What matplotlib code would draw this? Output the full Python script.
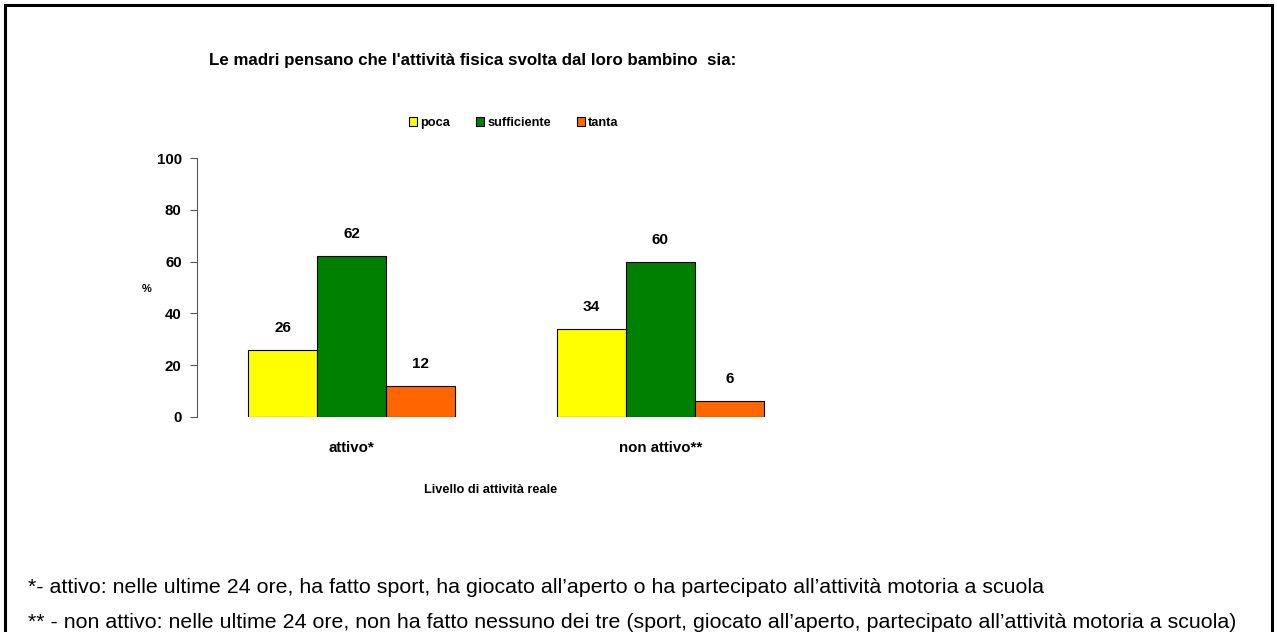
import matplotlib
matplotlib.use("Agg")
import matplotlib.pyplot as plt
from matplotlib.patches import Rectangle
import numpy as np

categories = ["attivo*", "non attivo**"]
series_names = ["poca", "sufficiente", "tanta"]
poca = [26, 34]
sufficiente = [62, 60]
tanta = [12, 6]
series_values = [poca, sufficiente, tanta]
series_colors = ["#FFFF00", "#008000", "#FF6600"]

title = "Le madri pensano che l'attività fisica svolta dal loro bambino  sia:"
xlabel = "Livello di attività reale"
ylabel = "%"
footnotes = [
    "*- attivo: nelle ultime 24 ore, ha fatto sport, ha giocato all\u2019aperto o ha partecipato all\u2019attività motoria a scuola",
    "** - non attivo: nelle ultime 24 ore, non ha fatto nessuno dei tre (sport, giocato all\u2019aperto, partecipato all\u2019attività motoria a scuola)",
]

narrow = ["Liberation Sans Narrow", "Liberation Sans", "DejaVu Sans"]
regular = ["Liberation Sans", "DejaVu Sans"]

W, H = 1277, 632
fig = plt.figure(figsize=(W / 100, H / 100), dpi=100)
renderer = fig.canvas.get_renderer()


def fit_size(text, size, target_px, **kw):
    """Font size that makes `text` about target_px wide."""
    t = fig.text(0, 0, text, fontsize=size, **kw)
    w = t.get_window_extent(renderer).width
    t.remove()
    return size * target_px / w


bold = dict(family=narrow, fontweight="bold")
tick_size = fit_size("100", 11, 25, **bold)
cat_size = fit_size("attivo*", 11, 46, **bold)
label_size = fit_size("62", 11, 17, **bold)
title_size = fit_size(title, 12, 525, **bold)
xlabel_size = fit_size(xlabel, 9, 134, **bold)
legend_size = fit_size("sufficiente", 9, 64, **bold)
foot_size = fit_size(footnotes[0], 11, 1010, family=regular)

ax = fig.add_axes([197 / W, 1 - 417 / H, 618 / W, 259 / H])

x = np.arange(len(categories))
width = 0.2233
offsets = [-width, 0, width]

for vals, name, color, off in zip(series_values, series_names, series_colors, offsets):
    bars = ax.bar(x + off, vals, width, color=color, edgecolor="black",
                  linewidth=0.8, label=name)
    for bar, val in zip(bars, vals):
        ax.annotate(f"{val}", (bar.get_x() + bar.get_width() / 2, bar.get_height()),
                    xytext=(0, 22), textcoords="offset pixels", ha="center",
                    va="center", fontsize=label_size, **bold)

ax.set_xlim(-0.5, 1.5)
ax.set_ylim(0, 100)
ax.set_yticks(range(0, 101, 20))
ax.set_yticklabels([str(v) for v in range(0, 101, 20)], fontsize=tick_size, **bold)
ax.tick_params(axis="y", direction="out", length=5, width=0.8, pad=6, color="#555555")
ax.set_xticks(x)
ax.set_xticklabels(categories, fontsize=cat_size, **bold)
ax.tick_params(axis="x", length=0, pad=17)
for s in ["top", "right", "bottom"]:
    ax.spines[s].set_visible(False)
ax.spines["left"].set_color("#555555")
ax.spines["left"].set_linewidth(0.8)

fig.text(147 / W, 1 - 289 / H, ylabel, fontsize=8, ha="center", va="center", **bold)
fig.text(491 / W, 1 - 490 / H, xlabel, fontsize=xlabel_size, ha="center",
         va="center", **bold)
fig.text(473 / W, 1 - 61 / H, title, fontsize=title_size, ha="center",
         va="center", **bold)

em_px = legend_size * 100 / 72
fig.legend(loc="center", bbox_to_anchor=(514 / W, 1 - 123 / H), ncol=3,
           frameon=False, handlelength=8 / em_px, handleheight=8 / em_px,
           handletextpad=3 / em_px, columnspacing=26 / em_px,
           prop={"family": narrow, "weight": "bold", "size": legend_size})

fig.text(28 / W, 1 - 593 / H, footnotes[0], fontsize=foot_size, family=regular,
         ha="left", va="baseline")
fig.text(28 / W, 1 - 628 / H, footnotes[1], fontsize=foot_size, family=regular,
         ha="left", va="baseline")

# outer frame (bottom edge falls outside the picture)
fig.patches.append(Rectangle((5 / W, -0.05), 1 - 10 / W, 1.05 - 5 / H,
                             transform=fig.transFigure, fill=False,
                             edgecolor="black", linewidth=2.2))

fig.savefig("out.png", dpi=100)
